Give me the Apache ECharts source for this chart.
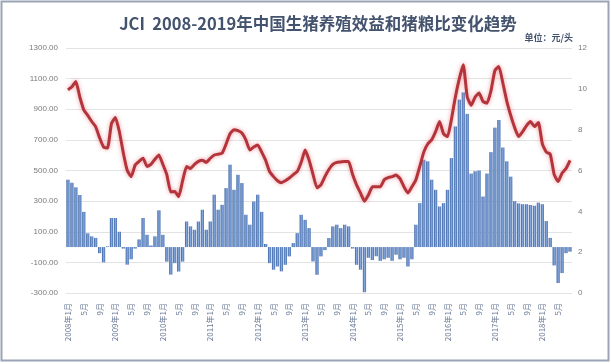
<!DOCTYPE html>
<html>
<head>
<meta charset="utf-8">
<script src="https://cdn.jsdelivr.net/npm/echarts@6/dist/echarts.min.js"></script>
<style>
html,body{margin:0;padding:0;background:#fff;}
#c{width:611px;height:364px;}
</style>
</head>
<body>
<div id="c"></div>
<script>
// Monthly categories, 2008-01 .. 2018-08
const startYear = 2008;
const monthCount = 128;
const categories = [];
for (let k = 0; k < monthCount; k++) {
  const y = startYear + Math.floor(k / 12), m = (k % 12) + 1;
  categories.push(m === 1 ? (y + '年' + m + '月') : (m + '月'));
}

// 生猪养殖效益 (元/头) – bars, left axis
const profit = [
  440, 420, 390, 340, 230, 90, 70, 60, -40, -100,
  5, 190, 190, 100, -10, -115, -80, -10, 50, 190,
  80, 10, 70, 240, 80, -95, -180, -105, -160, -95,
  167, 135, 113, 167, 244, 113, 167, 342, 244, 276,
  385, 538, 374, 472, 418, 211, 146, 298, 342, 230,
  20, -105, -148, -127, -159, -116, -61, 26, 91, 211,
  178, 124, -94, -181, -61, -20, 59, 135, 146, 124,
  146, 135, -10, -116, -148, -295, -70, -85, -60, -90,
  -80, -70, -90, -50, -80, -70, -127, -80, 146, 287,
  570, 560, 440, 374, 265, 287, 374, 581, 788, 963,
  1010, 870, 480, 495, 500, 330, 480, 620, 780, 830,
  650, 560, 460, 300, 285, 280, 280, 275, 270, 290,
  280, 170, 60, -120, -235, -170, -40, -30
];

// 猪粮比 – line, right axis
const ratio = [
  9.95, 10.1, 10.36, 9.6, 8.97, 8.7, 8.4, 8.15, 7.6, 7.15,
  7.1, 8.3, 8.6, 7.9, 6.86, 6.0, 5.7, 6.27, 6.45, 6.6,
  6.2, 6.3, 6.55, 6.76, 6.3, 5.8, 4.95, 4.97, 4.72, 5.5,
  6.19, 6.1, 6.3, 6.45, 6.5, 6.4, 6.6, 6.76, 6.8, 6.85,
  7.3, 7.8, 8.0, 7.95, 7.84, 7.5, 7.0, 7.15, 7.25, 6.9,
  6.5, 5.95, 5.7, 5.5, 5.4, 5.5, 5.63, 5.8, 5.95, 6.4,
  7.0, 6.5, 5.8, 5.15, 5.3, 5.7, 6.05, 6.3, 6.4, 6.42,
  6.44, 6.44, 5.8, 5.3, 4.9, 4.5, 4.8, 5.2, 5.2, 5.2,
  5.55, 5.65, 5.7, 5.78, 5.6, 5.2, 4.9, 5.2, 5.54, 6.2,
  6.9, 7.3, 7.5, 7.9, 8.4, 7.8, 7.66, 8.5, 9.6, 10.5,
  11.18, 9.6, 9.2, 9.6, 9.79, 9.38, 9.3, 9.9, 10.9, 11.1,
  10.3, 9.4, 8.7, 8.1, 7.66, 7.9, 8.2, 8.4, 8.15, 8.35,
  7.3, 6.9, 6.8, 5.8, 5.46, 5.88, 6.1, 6.5
];

const titleText = 'JCI  2008-2019年中国生猪养殖效益和猪粮比变化趋势';
const unitText = '单位：元/头';

const chart = echarts.init(document.getElementById('c'), null, {renderer: 'canvas'});
chart.setOption({
  animation: false,
  backgroundColor: '#fff',
  title: {
    text: titleText,
    left: 313, top: 10,
    textAlign: 'center',
    textStyle: {fontFamily: 'Noto Sans CJK SC', fontSize: 16.5, fontWeight: 'bold', color: '#44536e'}
  },
  graphic: [
    {type: 'rect', shape: {x: 1.5, y: 1.5, width: 607, height: 359}, style: {fill: 'none', stroke: '#9ba4b6', lineWidth: 2}, silent: true},
    {type: 'text', right: 38, top: 33, style: {text: unitText, font: 'bold 9px "Noto Sans CJK SC"', fill: '#44536e'}}
  ],
  grid: {left: 66, right: 39, top: 48, bottom: 71},
  xAxis: {
    type: 'category',
    data: categories,
    boundaryGap: true,
    axisLine: {show: false},
    axisTick: {show: false},
    axisLabel: {
      interval: 3, rotate: 90, fontSize: 8, color: '#6b7a96', margin: 10,
      fontFamily: 'Noto Sans CJK SC'
    }
  },
  yAxis: [
    {
      type: 'value', min: -300, max: 1300, interval: 200,
      axisLine: {show: false}, axisTick: {show: false},
      axisLabel: {fontSize: 8, color: '#7a7a7a', margin: 8, formatter: v => v.toFixed(2), fontFamily: 'Liberation Sans'},
      splitLine: {lineStyle: {color: '#e3e3e3', width: 1}}
    },
    {
      type: 'value', min: 0, max: 12, interval: 2,
      axisLine: {show: false}, axisTick: {show: false},
      axisLabel: {fontSize: 8, color: '#7a7a7a', margin: 6, fontFamily: 'Liberation Sans'},
      splitLine: {show: false}
    }
  ],
  series: [
    {
      type: 'bar', data: profit, yAxisIndex: 0, barCategoryGap: '18%',
      itemStyle: {
        color: new echarts.graphic.LinearGradient(0, 0, 1, 0, [
          {offset: 0, color: '#3a609f'},
          {offset: 0.5, color: '#86a8dc'},
          {offset: 1, color: '#4570b2'}
        ])
      }
    },
    {
      type: 'line', data: ratio, yAxisIndex: 1, symbol: 'none', smooth: 0.15,
      lineStyle: {color: '#b3353b', width: 3, shadowColor: 'rgba(230,110,120,0.7)', shadowBlur: 4},
      z: 5
    }
  ]
});
</script>
</body>
</html>
